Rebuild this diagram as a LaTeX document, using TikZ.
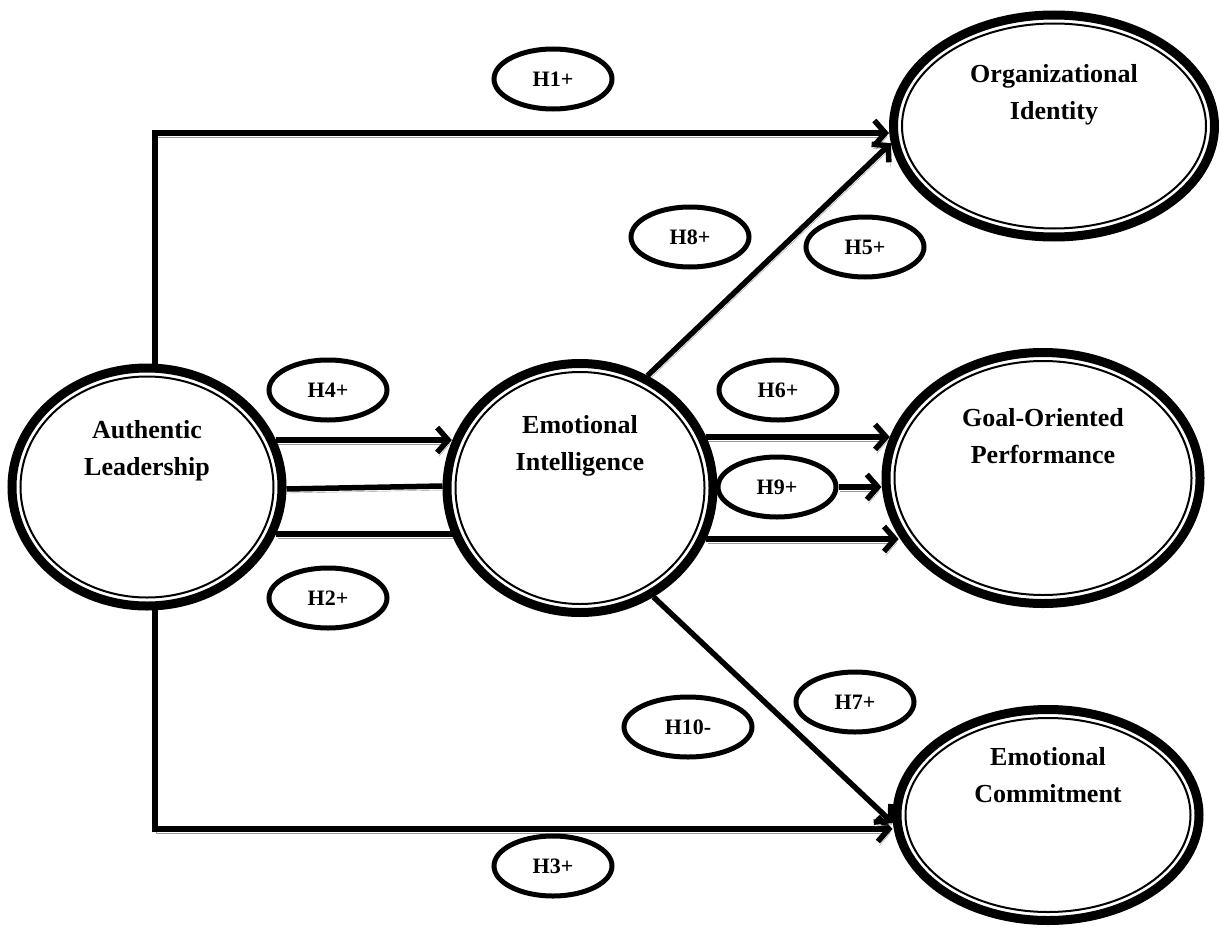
\documentclass[tikz,border=0pt]{standalone}
\usepackage{fontspec}
\setmainfont{Liberation Serif}
\usetikzlibrary{arrows.meta,positioning,calc,shapes.geometric,backgrounds}

\begin{document}
\begin{tikzpicture}[x=1pt,y=-1pt,>={Straight Barb[length=11pt,width=25pt]},
  bigell/.style={ellipse,draw,line width=9pt,fill=white,
    path picture={\draw[line width=2pt] let \p1=(path picture bounding box.north east),
      \p2=(path picture bounding box.center) in
      (\p2) ellipse [x radius=\x1-\x2-8.5pt, y radius=\y1-\y2-8.5pt];}},
  bigtxt/.style={font=\fontsize{26}{37}\selectfont\bfseries,align=center},
  hyp/.style={ellipse,draw,line width=5pt,fill=white,minimum width=118pt,
    minimum height=60pt,inner sep=0pt,font=\fontsize{22}{26}\selectfont\bfseries},
  conn/.style={line width=5.5pt,
    preaction={draw=black!40,transform canvas={xshift=1.5pt,yshift=-4pt}}}]
  \useasboundingbox (0,0) rectangle (1221,934);

  % constructs
  \node[bigell,minimum width=270pt,minimum height=238pt,
    label={[bigtxt,yshift=36pt]center:Authentic\\Leadership}] (al) at (147,487) {};
  \node[bigell,minimum width=266pt,minimum height=249pt,
    label={[bigtxt,yshift=42pt]center:Emotional\\Intelligence}] (ei) at (580,488) {};
  \node[bigell,minimum width=321pt,minimum height=222pt,
    label={[bigtxt,yshift=31pt]center:Organizational\\Identity}] (oi) at (1054,126) {};
  \node[bigell,minimum width=314pt,minimum height=251pt,
    label={[bigtxt,yshift=42pt]center:Goal-Oriented\\Performance}] (gop) at (1043,478) {};
  \node[bigell,minimum width=302pt,minimum height=211pt,
    label={[bigtxt,yshift=40pt]center:Emotional\\Commitment}] (ec) at (1048,815) {};

  % hypotheses
  \node[hyp] (h1) at (553,79) {H1+};
  \node[hyp] (h4) at (328,390) {H4+};
  \node[hyp] (h2) at (328,598) {H2+};
  \node[hyp] (h8) at (690,237) {H8+};
  \node[hyp] (h5) at (865,247) {H5+};
  \node[hyp] (h6) at (778,390) {H6+};
  \node[hyp] (h9) at (777,487) {H9+};
  \node[hyp] (h7) at (855,702) {H7+};
  \node[hyp,minimum width=128pt] (h10) at (688,727) {H10-};
  \node[hyp] (h3) at (553,866) {H3+};

  \begin{scope}[on background layer]
    \draw[conn,->] ([xshift=8pt]al.center) |- ([yshift=-7pt]oi.west);
    \draw[conn,->] ([xshift=8pt]al.center) |- ([yshift=-14pt]ec.west);
    \draw[conn,->] (al.20) -- (al.20 -| ei.160);
    \draw[conn] ([yshift=-2pt]al.east) -- ([yshift=2pt]ei.west);
    \draw[conn] (al.-20) -- (al.-20 -| ei.center);
    \draw[conn,->] (ei.59) -- (oi.186);
    \draw[conn,->] (ei.22) -- (ei.22 -| gop.165);
    \draw[conn,->] (h9.east) -- (h9.east -| gop.west);
    \draw[conn,->] (ei.-22) -- (ei.-22 -| gop.202);
    \draw[conn,->] (ei.-56) -- (ec.183);
  \end{scope}
\end{tikzpicture}
\end{document}
